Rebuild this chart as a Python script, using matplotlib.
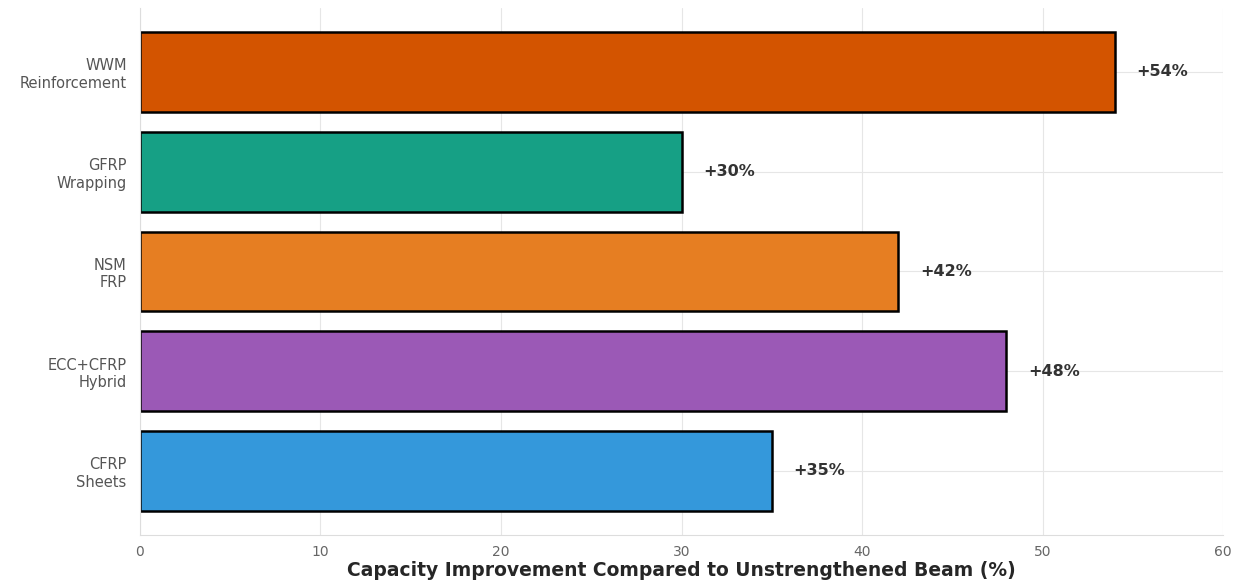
import matplotlib.pyplot as plt
import seaborn as sns

methods = ['CFRP\nSheets', 'ECC+CFRP\nHybrid', 'NSM\nFRP', 'GFRP\nWrapping', 'WWM\nReinforcement']
improvement = [35, 48, 42, 30, 54]
colors = ['#3498db', '#9b59b6', '#e67e22', '#16a085', '#d35400']

sns.set_style('whitegrid')
plt.rcParams['font.family'] = ['DejaVu Sans']

fig, ax = plt.subplots(figsize=(12.38, 5.8), dpi=100)
bars = ax.barh(methods, improvement, height=0.8, color=colors,
               edgecolor='black', linewidth=1.8)

# value labels just past the end of each bar
for bar, val in zip(bars, improvement):
    ax.text(val + 1.2, bar.get_y() + bar.get_height() / 2, f'+{val}%',
            va='center', ha='left', fontsize=11.5, fontweight='bold', color='#333333')

ax.set_xlim(0, 60)
ax.set_xlabel('Capacity Improvement Compared to Unstrengthened Beam (%)',
              fontsize=13.5, fontweight='bold', labelpad=1)
ax.tick_params(axis='y', labelsize=10.5, colors='#555555', pad=6)
ax.tick_params(axis='x', labelsize=10, colors='#666666', pad=4)
ax.grid(True, color='#e6e6e6', linewidth=0.8)
for s in ['top', 'right']:
    ax.spines[s].set_visible(False)
for s in ['left', 'bottom']:
    ax.spines[s].set_color('#dddddd')

plt.subplots_adjust(left=0.113, right=0.988, top=0.986, bottom=0.078)
plt.savefig('out.png', dpi=100)
